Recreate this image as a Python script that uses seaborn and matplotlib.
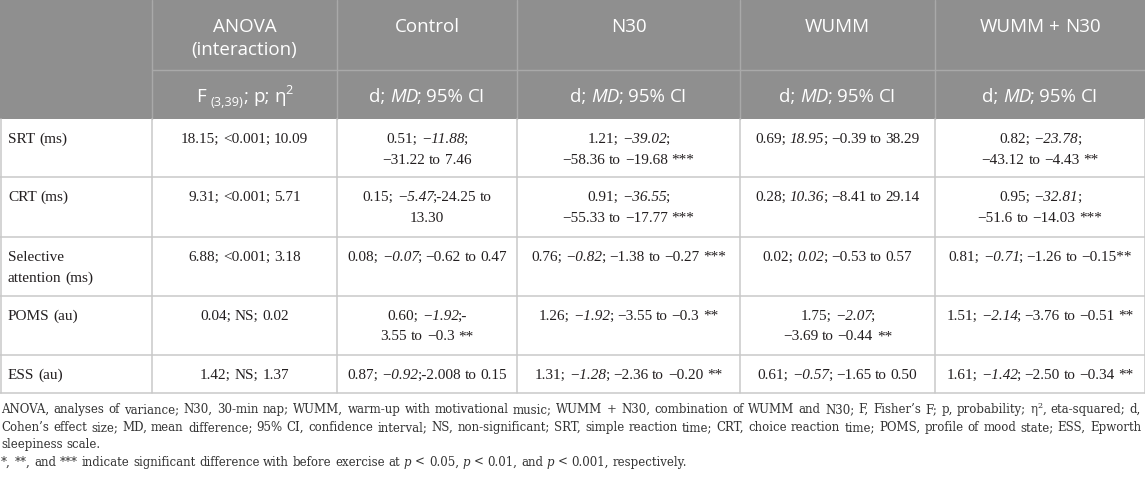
import re
import matplotlib
matplotlib.use("Agg")
import matplotlib.pyplot as plt
from matplotlib.patches import Rectangle
import seaborn as sns

# Table content (markup: _italic_, ~subscript~, ^superscript^)
groups = ["ANOVA\n(interaction)", "Control", "N30", "WUMM", "WUMM + N30"]
subheads = ["F ~(3,39)~; p; η^2^", "d; _MD_; 95% CI", "d; _MD_; 95% CI",
            "d; _MD_; 95% CI", "d; _MD_; 95% CI"]
measures = ["SRT (ms)", "CRT (ms)", "Selective\nattention (ms)", "POMS (au)", "ESS (au)"]

anova = ["18.15; <0.001; 10.09", "9.31; <0.001; 5.71", "6.88; <0.001; 3.18",
         "0.04; NS; 0.02", "1.42; NS; 1.37"]
control = ["0.51; _−11.88_;\n−31.22 to 7.46",
           "0.15; _−5.47_;-24.25 to\n13.30",
           "0.08; _−0.07_; −0.62 to 0.47",
           "0.60; _−1.92_;-\n3.55 to −0.3 **",
           "0.87; _−0.92_;-2.008 to 0.15"]
n30 = ["1.21; _−39.02_;\n−58.36 to −19.68 ***",
       "0.91; _−36.55_;\n−55.33 to −17.77 ***",
       "0.76; _−0.82_; −1.38 to −0.27 ***",
       "1.26; _−1.92_; −3.55 to −0.3 **",
       "1.31; _−1.28_; −2.36 to −0.20 **"]
wumm = ["0.69; _18.95_; −0.39 to 38.29",
        "0.28; _10.36_; −8.41 to 29.14",
        "0.02; _0.02_; −0.53 to 0.57",
        "1.75; _−2.07_;\n−3.69 to −0.44 **",
        "0.61; _−0.57_; −1.65 to 0.50"]
wumm_n30 = ["0.82; _−23.78_;\n−43.12 to −4.43 **",
            "0.95; _−32.81_;\n−51.6 to −14.03 ***",
            "0.81; _−0.71_; −1.26 to −0.15**",
            "1.51; _−2.14_; −3.76 to −0.51 **",
            "1.61; _−1.42_; −2.50 to −0.34 **"]

footnotes = [
    "ANOVA, analyses of variance; N30, 30-min nap; WUMM, warm-up with motivational music; "
    "WUMM + N30, combination of WUMM and N30; F, Fisher’s F; p, probability; η^2^, eta-squared; d,",
    "Cohen’s effect size; MD, mean difference; 95% CI, confidence interval; NS, non-significant; "
    "SRT, simple reaction time; CRT, choice reaction time; POMS, profile of mood state; ESS, Epworth",
    "sleepiness scale.",
    "*, **, and *** indicate significant difference with before exercise at _p_ < 0.05, "
    "_p_ < 0.01, and _p_ < 0.001, respectively.",
]

# layout in pixels
W, H = 1145, 480
col_edges = [0, 152, 337, 517, 740, 935, 1145]
head_mid, head_bot = 70, 119
row_edges = [119, 177, 237, 296, 355, 393]
HEAD_BG = "#8f8f8f"
HEAD_LINE = "#a9a9a9"
BODY_LINE = "#c9c9c9"
TXT = "#231f20"
SERIF = "Liberation Serif"
SANS = "Open Sans"
FOOT = "DejaVu Serif"

sns.set_theme(style="white")
plt.rcParams['font.family'] = [SERIF, 'DejaVu Serif']

fig = plt.figure(figsize=(W / 100, H / 100), dpi=100)
ax = fig.add_axes([0, 0, 1, 1])
ax.set_xlim(0, W)
ax.set_ylim(H, 0)
ax.axis('off')
renderer = fig.canvas.get_renderer()
PX = 100 / 72


def parse(markup):
    segs, italic, script = [], False, 0
    for tok in re.split(r'([_~^])', markup):
        if tok == '_':
            italic = not italic
        elif tok == '~':
            script = 0 if script == -1 else -1
        elif tok == '^':
            script = 0 if script == 1 else 1
        elif tok:
            segs.append((tok, italic, script))
    return segs


def to_words(segs):
    words = [[]]
    for text, it, sc in segs:
        for i, p in enumerate(text.split(' ')):
            if i > 0:
                words.append([])
            if p:
                words[-1].append((p, it, sc))
    return [w for w in words if w]


def width_of(t):
    return t.get_window_extent(renderer).width


def space_width(size, family):
    a = ax.text(0, 0, "a a", fontsize=size, family=family)
    b = ax.text(0, 0, "aa", fontsize=size, family=family)
    w = width_of(a) - width_of(b)
    a.remove()
    b.remove()
    return w


def draw_line(x, y, markup, size, family, color, ha='center', width=None):
    words = to_words(parse(markup))
    placed = []
    for w in words:
        pieces = []
        prev_it = False
        for p, it, sc in w:
            fs = size * (0.68 if sc else 1.0)
            dy = {0: 0, 1: -size * 0.42, -1: size * 0.22}[sc] * PX
            t = ax.text(0, y + dy, p, fontsize=fs, family=family, color=color,
                        style='italic' if it else 'normal', ha='left', va='baseline')
            kern = -1.5 if (prev_it and not it) else 0.0
            pieces.append((t, width_of(t), kern))
            prev_it = it
        placed.append(pieces)
    word_w = [sum(m + k for _, m, k in pcs) for pcs in placed]
    gap = space_width(size, family)
    total = sum(word_w) + gap * (len(placed) - 1)
    if width is not None and len(placed) > 1:
        gap = (width - sum(word_w)) / (len(placed) - 1)
        total = width
    cur = x - total / 2 if ha == 'center' else x
    for pcs in placed:
        for t, m, k in pcs:
            cur += k
            t.set_x(cur)
            cur += m
        cur += gap
    return total


def natural_width(markup, size, family):
    before = list(ax.texts)
    w = draw_line(0, -100, markup, size, family, 'none', ha='left')
    for t in list(ax.texts):
        if t not in before:
            t.remove()
    return w


# header background and rules
ax.add_patch(Rectangle((0, 0), W, head_bot, color=HEAD_BG, lw=0))
for xe in col_edges[1:-1]:
    ax.plot([xe, xe], [0, head_bot], color=HEAD_LINE, lw=1.0)
ax.plot([col_edges[1], W], [head_mid, head_mid], color=HEAD_LINE, lw=1.0)

# body rules
for ye in row_edges[1:]:
    ax.plot([0, W], [ye, ye], color=BODY_LINE, lw=1.1)
for xe in col_edges:
    xe = min(max(xe, 0.5), W - 0.5)
    ax.plot([xe, xe], [head_bot, row_edges[-1]], color=BODY_LINE, lw=1.1)

# header text
HSIZE = 13.5
for j, g in enumerate(groups):
    cx = (col_edges[j + 1] + col_edges[j + 2]) / 2
    for k, line in enumerate(g.split('\n')):
        draw_line(cx, 31.5 + k * 23, line, HSIZE, SANS, 'white')
    draw_line(cx, 101.5, subheads[j], HSIZE, SANS, 'white')

# body text
BSIZE = 11
columns = [anova, control, n30, wumm, wumm_n30]
for i, label in enumerate(measures):
    top = row_edges[i]
    for k, line in enumerate(label.split('\n')):
        draw_line(8, top + 24 + k * 20.5, line, BSIZE, SERIF, TXT, ha='left')
    for j, col in enumerate(columns):
        cx = (col_edges[j + 1] + col_edges[j + 2]) / 2
        for k, line in enumerate(col[i].split('\n')):
            draw_line(cx, top + 24 + k * 20.5, line, BSIZE, SERIF, TXT)

# footnotes: size fitted so the second line nearly fills the width
FSIZE = 8.0
for _ in range(3):
    FSIZE *= 1125 / natural_width(footnotes[1], FSIZE, FOOT)
foot_y = [413, 431, 448, 466]
for k, (line, yb) in enumerate(zip(footnotes, foot_y)):
    width = 1140 if k < 2 else None
    draw_line(1, yb, line, FSIZE, FOOT, "#333333", ha='left', width=width)

fig.savefig("out.png", dpi=100)
